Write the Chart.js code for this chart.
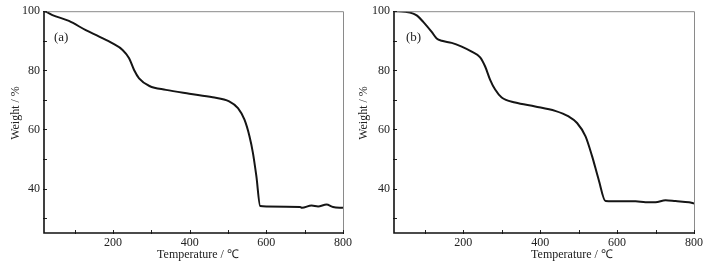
<!DOCTYPE html>
<html>
<head>
<meta charset="utf-8">
<script src="https://cdn.jsdelivr.net/npm/chart.js@4.4.1/dist/chart.umd.min.js"></script>
<style>
  body { margin: 0; background: #fff; }
  .panel { position: absolute; top: 0; height: 266px; }
  #wrapA { left: 0; width: 355px; }
  #wrapB { left: 355px; width: 358px; }
</style>
</head>
<body>
<div class="panel" id="wrapA"><canvas id="chartA"></canvas></div>
<div class="panel" id="wrapB"><canvas id="chartB"></canvas></div>
<script>
'use strict';

// TGA curve (a)
const tempA = [20, 30, 42, 85, 129, 164, 199, 225, 242, 255, 268, 295, 338, 399, 460, 503, 526, 543, 556, 565, 574, 584, 600, 688, 693, 718, 735, 757, 774, 800];
const weightA = [100, 99.5, 98.7, 96.7, 93.6, 91.4, 89.1, 86.9, 84.1, 80.1, 77.3, 74.7, 73.4, 72.1, 70.9, 69.5, 67.2, 63.3, 57.7, 52.1, 44.2, 34.1, 34.0, 33.8, 33.5, 34.3, 34.0, 34.6, 33.8, 33.5];

// TGA curve (b)
const tempB = [22, 48, 70, 80, 96, 118, 131, 144, 170, 196, 222, 244, 257, 270, 283, 300, 335, 387, 439, 474, 496, 518, 535, 552, 570, 613, 648, 674, 700, 726, 752, 787, 800];
const weightB = [100, 99.8, 99.2, 98.5, 96.4, 93.0, 90.8, 90.0, 89.3, 88.0, 86.3, 84.4, 81.3, 76.8, 73.5, 70.8, 69.1, 67.8, 66.3, 64.4, 62.2, 57.7, 51.0, 43.1, 35.8, 35.7, 35.7, 35.4, 35.4, 36.1, 35.8, 35.4, 35.0];

const xTickLabels = [200, 400, 600, 800];
const yTickLabels = [40, 60, 80, 100];

const FONT = "'Liberation Serif', 'Times New Roman', serif";
const TEXT = '#222';

Chart.defaults.font.family = FONT;
Chart.defaults.font.size = 12;
Chart.defaults.color = TEXT;

// frame, inward ticks, axis titles and panel letter
const framePlugin = {
    id: 'frame',
    afterDraw(chart, args, o) {
        const ctx = chart.ctx;
        const a = chart.chartArea;
        const xs = chart.scales.x, ys = chart.scales.y;
        ctx.save();
        // top / right grey box
        ctx.strokeStyle = '#8a8a8a';
        ctx.lineWidth = 1;
        ctx.beginPath();
        ctx.moveTo(a.left, a.top + 0.5);
        ctx.lineTo(a.right + 0.5, a.top + 0.5);
        ctx.lineTo(a.right + 0.5, a.bottom);
        ctx.stroke();
        // ticks
        ctx.strokeStyle = '#222';
        ctx.lineWidth = 1;
        for (const t of xs.ticks) {
            const px = Math.round(xs.getPixelForValue(t.value)) + 0.5;
            ctx.beginPath();
            ctx.moveTo(px, a.bottom + 1);
            ctx.lineTo(px, a.bottom - 3);
            ctx.stroke();
        }
        for (const t of ys.ticks) {
            const py = Math.round(ys.getPixelForValue(t.value)) + 0.5;
            ctx.beginPath();
            ctx.moveTo(a.left - 1, py);
            ctx.lineTo(a.left + 3, py);
            ctx.stroke();
        }
        // left / bottom black axes
        ctx.strokeStyle = '#111';
        ctx.lineWidth = 1.6;
        ctx.beginPath();
        ctx.moveTo(a.left, a.top);
        ctx.lineTo(a.left, a.bottom);
        ctx.lineTo(a.right + 1, a.bottom);
        ctx.stroke();
        // axis titles
        ctx.fillStyle = TEXT;
        ctx.font = '12px ' + FONT;
        ctx.textAlign = 'center';
        ctx.textBaseline = 'middle';
        ctx.fillText('Temperature / \u2103', o.xTitleX, 255);
        ctx.save();
        ctx.translate(o.yTitleX, 113);
        ctx.rotate(-Math.PI / 2);
        ctx.fillText('Weight / %', 0, 0);
        ctx.restore();
        // panel letter
        ctx.font = '13px ' + FONT;
        ctx.textAlign = 'left';
        ctx.fillText(o.letter, a.left + o.letterDx, 38);
        ctx.restore();
    }
};

function makeChart(id, temps, weights, yAxisWidth, rightPad, extra) {
    const points = temps.map((t, i) => ({ x: t, y: weights[i] }));
    return new Chart(document.getElementById(id), {
        type: 'line',
        data: {
            datasets: [{
                data: points,
                borderColor: '#151515',
                borderWidth: 2,
                pointRadius: 0,
                cubicInterpolationMode: 'monotone',
                fill: false
            }]
        },
        options: {
            responsive: true,
            maintainAspectRatio: false,
            animation: false,
            events: [],
            layout: { padding: { top: 11, right: rightPad, left: 0, bottom: 0 } },
            plugins: {
                legend: { display: false },
                tooltip: { enabled: false },
                frame: extra
            },
            scales: {
                x: {
                    type: 'linear',
                    min: 20,
                    max: 800,
                    grid: { display: false, drawTicks: false },
                    border: { display: false },
                    ticks: {
                        stepSize: 100,
                        includeBounds: false,
                        padding: 3,
                        maxRotation: 0,
                        autoSkip: false,
                        callback: v => xTickLabels.includes(v) ? String(v) : ''
                    },
                    afterFit: s => { s.height = 33; }
                },
                y: {
                    min: 25,
                    max: 100,
                    grid: { display: false, drawTicks: false },
                    border: { display: false },
                    ticks: {
                        stepSize: 10,
                        includeBounds: false,
                        padding: 4,
                        autoSkip: false,
                        callback: v => yTickLabels.includes(v) ? String(v) : ''
                    },
                    afterFit: s => { s.width = yAxisWidth; }
                }
            }
        },
        plugins: [framePlugin]
    });
}

makeChart('chartA', tempA, weightA, 44, 12, { letter: '(a)', letterDx: 10, xTitleX: 198, yTitleX: 16 });
makeChart('chartB', tempB, weightB, 39, 19, { letter: '(b)', letterDx: 12, xTitleX: 217, yTitleX: 9 });
</script>
</body>
</html>
